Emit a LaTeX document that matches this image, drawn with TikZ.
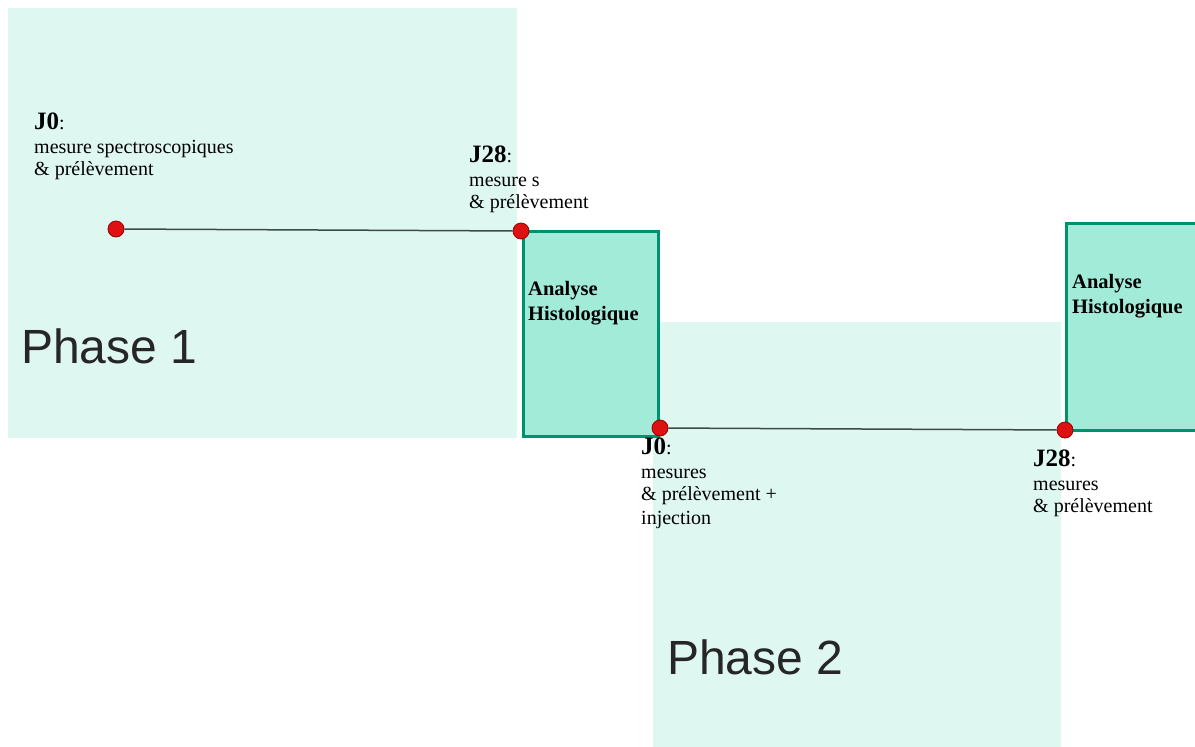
\documentclass[tikz,border=0pt]{standalone}
\usepackage{fontspec}
\setmainfont{Liberation Serif}
\newfontfamily\phasefont{Liberation Sans}
\usepackage{xcolor}
\usetikzlibrary{positioning}

\definecolor{phasebg}{HTML}{DFF7F1}
\definecolor{histfill}{HTML}{A3EBD9}
\definecolor{histedge}{HTML}{00916E}
\definecolor{dotred}{HTML}{DD1111}
\definecolor{linegrey}{HTML}{3F4A47}

\begin{document}
\begin{tikzpicture}[x=1pt, y=-1pt, every node/.style={inner sep=0pt},
  phase/.style={fill=phasebg, draw=none},
  histbox/.style={fill=histfill, draw=histedge, line width=3pt, anchor=north west},
  histlbl/.style={font=\bfseries\fontsize{20.5}{25}\selectfont, align=left, anchor=north west},
  dot/.style={circle, minimum size=16pt, fill=dotred, draw=red!60!black, line width=0.8pt},
  tline/.style={draw=linegrey, line width=1.5pt},
  lbl/.style={font=\fontsize{20}{22.5}\selectfont, align=left, anchor=north west},
  big/.style={font=\phasefont\fontsize{48}{52}\selectfont, color=black!85, anchor=base west}]
\useasboundingbox (0,0) rectangle (1195,747);
% background panels
\path[phase] (8,8) rectangle (517,438);
\path[phase] (653,322) rectangle (1061,747);
\node[big] (ph1) at (21,363) {Phase 1};
\node[big] (ph2) at (667,674) {Phase 2};
% histology boxes
\node[histbox, minimum width=135pt, minimum height=205pt] (hist1) at (522,230) {};
\node[histbox, minimum width=140pt, minimum height=207pt] (hist2) at (1065,222) {};
\node[histlbl, below right=51pt and 6pt of hist1.north west] (hl1) {Analyse\\Histologique};
\node[histlbl, below right=52pt and 7pt of hist2.north west] (hl2) {Analyse\\Histologique};
% timeline points
\node[dot] (d0a) at (116,229) {};
\node[dot] (d28a) at (521,231) {};
\node[dot] (d0b) at (660,428) {};
\node[dot] (d28b) at (1065,430) {};
\draw[tline] (d0a) -- (d28a);
\draw[tline] (d0b) -- (d28b);
% labels
\node[lbl] (t0a) at (34,113) {{\bfseries\fontsize{25}{27}\selectfont J0}:\\[1pt]mesure spectroscopiques\\\& prélèvement};
\node[lbl] (t28a) at (469,146) {{\bfseries\fontsize{25}{27}\selectfont J28}:\\[1pt]mesure s\\\& prélèvement};
\node[lbl] (t0b) at (641,438) {{\bfseries\fontsize{25}{27}\selectfont J0}:\\[1pt]mesures\\\& prélèvement +\\[1pt]injection};
\node[lbl] (t28b) at (1033,450) {{\bfseries\fontsize{25}{27}\selectfont J28}:\\[1pt]mesures\\\& prélèvement};
\end{tikzpicture}
\end{document}
